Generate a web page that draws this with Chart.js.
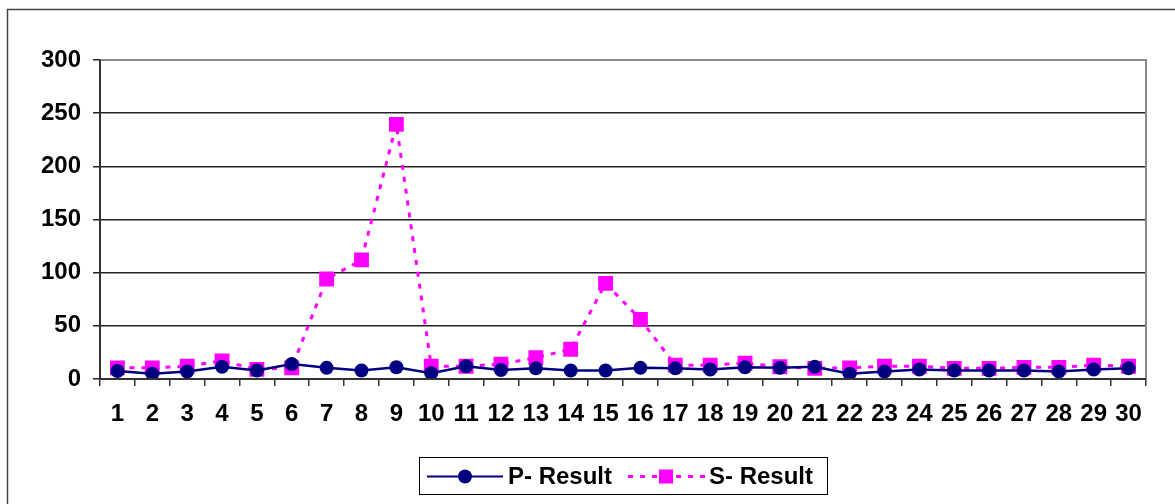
<!DOCTYPE html>
<html>
<head>
<meta charset="utf-8">
<script src="https://cdn.jsdelivr.net/npm/chart.js@4/dist/chart.umd.min.js"></script>
<style>
    html, body { margin: 0; padding: 0; background: #fff; }
    #wrap { width: 1175px; height: 504px; position: relative; }
</style>
</head>
<body>
<div id="wrap"><canvas id="myChart"></canvas></div>
<script>
const labels = Array.from({ length: 30 }, (_, i) => `${i + 1}`);
const pResult = [7.5, 5, 7, 11.5, 8, 14, 10.5, 8, 11, 5.5, 12, 8.5, 10, 8, 8, 10.5, 10, 9, 11, 10.5, 11.5, 5, 7, 9, 8, 8, 8, 7, 9, 10];
const sResult = [10.5, 10.5, 12, 17, 9, 10.5, 94, 112, 239.5, 12, 12, 14, 20, 28, 90, 56, 13, 13, 15, 11.5, 10, 10.5, 12, 12, 10, 10, 11, 11, 13, 12];
const yTicks = [0, 50, 100, 150, 200, 250, 300];

const tickFont = { family: '"Liberation Sans", Arial, sans-serif', size: 24, weight: 'bold' };

// outer frame + plot border + custom legend
const framePlugin = {
    id: 'frame',
    beforeDraw(chart) {
        const ctx = chart.ctx;
        ctx.save();
        ctx.strokeStyle = '#444';
        ctx.lineWidth = 1.5;
        ctx.strokeRect(7.5, 9.5, 1300, 700);
        ctx.restore();
    },
    afterDatasetsDraw(chart) {
        const ctx = chart.ctx;
        const a = chart.chartArea;
        ctx.save();
        ctx.strokeStyle = '#888';
        ctx.lineWidth = 2;
        ctx.beginPath();
        ctx.moveTo(a.left, a.top);
        ctx.lineTo(a.right, a.top);
        ctx.lineTo(a.right, a.bottom);
        ctx.stroke();
        ctx.strokeStyle = '#333';
        ctx.lineWidth = 2;
        ctx.beginPath();
        ctx.moveTo(a.left, a.top);
        ctx.lineTo(a.left, a.bottom);
        ctx.lineTo(a.right, a.bottom);
        ctx.stroke();

        // legend
        const lx = 419, ly = 457, lw = 408, lh = 37;
        ctx.fillStyle = '#fff';
        ctx.fillRect(lx, ly, lw, lh);
        ctx.strokeStyle = '#000';
        ctx.lineWidth = 1;
        ctx.strokeRect(lx + 0.5, ly + 0.5, lw, lh);
        const cy = ly + lh / 2 + 1;
        const ds = chart.data.datasets;
        // P
        ctx.strokeStyle = ds[0].borderColor;
        ctx.lineWidth = 2;
        ctx.setLineDash([]);
        ctx.beginPath();
        ctx.moveTo(427, cy);
        ctx.lineTo(503, cy);
        ctx.stroke();
        ctx.fillStyle = ds[0].pointBackgroundColor;
        ctx.beginPath();
        ctx.arc(465, cy, 7, 0, Math.PI * 2);
        ctx.fill();
        ctx.fillStyle = '#000';
        ctx.font = 'bold 24px "Liberation Sans", Arial, sans-serif';
        ctx.textBaseline = 'middle';
        ctx.fillText(ds[0].label, 508, cy + 1);
        // S
        ctx.strokeStyle = ds[1].borderColor;
        ctx.lineWidth = 3;
        ctx.setLineDash([5, 7]);
        ctx.beginPath();
        ctx.moveTo(628, cy);
        ctx.lineTo(705, cy);
        ctx.stroke();
        ctx.setLineDash([]);
        ctx.fillStyle = ds[1].pointBackgroundColor;
        ctx.fillRect(659, cy - 7, 14, 14);
        ctx.fillStyle = '#000';
        ctx.fillText(ds[1].label, 709, cy + 1);
        ctx.restore();
    }
};

const data = {
    labels: labels,
    datasets: [
        {
            label: 'P- Result',
            data: pResult,
            borderColor: '#000080',
            backgroundColor: '#000080',
            pointBackgroundColor: '#000080',
            pointBorderColor: '#000080',
            borderWidth: 2.5,
            pointStyle: 'circle',
            pointRadius: 7,
            pointBorderWidth: 0,
            tension: 0,
        },
        {
            label: 'S- Result',
            data: sResult,
            borderColor: '#FF00FF',
            backgroundColor: '#FF00FF',
            pointBackgroundColor: '#FF00FF',
            pointBorderColor: '#FF00FF',
            borderWidth: 3,
            borderDash: [5, 7],
            pointStyle: 'rect',
            pointRadius: 10.5,
            pointBorderWidth: 0,
            tension: 0,
        },
    ],
};

var ctx = document.getElementById('myChart').getContext('2d');
var myChart = new Chart(ctx, {
    type: 'line',
    data: data,
    plugins: [framePlugin],
    options: {
        responsive: true,
        maintainAspectRatio: false,
        animation: false,
        layout: { padding: { top: 60, right: 29, left: 0, bottom: 0 } },
        plugins: {
            legend: { display: false },
            tooltip: { enabled: false },
        },
        scales: {
            x: {
                type: 'category',
                offset: true,
                grid: {
                    offset: true,
                    drawOnChartArea: false,
                    color: '#333',
                    tickLength: 7,
                    lineWidth: 1.5,
                },
                border: { display: false },
                ticks: {
                    color: '#000',
                    font: tickFont,
                    padding: 14,
                    maxRotation: 0,
                    autoSkip: false,
                },
                afterFit(scale) { scale.height = 125; },
            },
            y: {
                min: 0,
                max: 300,
                afterBuildTicks(scale) { scale.ticks = yTicks.map(v => ({ value: v })); },
                grid: {
                    color: '#222',
                    tickLength: 7,
                    lineWidth: 1.5,
                },
                border: { display: false },
                ticks: {
                    color: '#000',
                    font: tickFont,
                    padding: 12,
                },
                afterFit(scale) { scale.width = 100; },
            },
        },
    },
});
</script>
</body>
</html>
